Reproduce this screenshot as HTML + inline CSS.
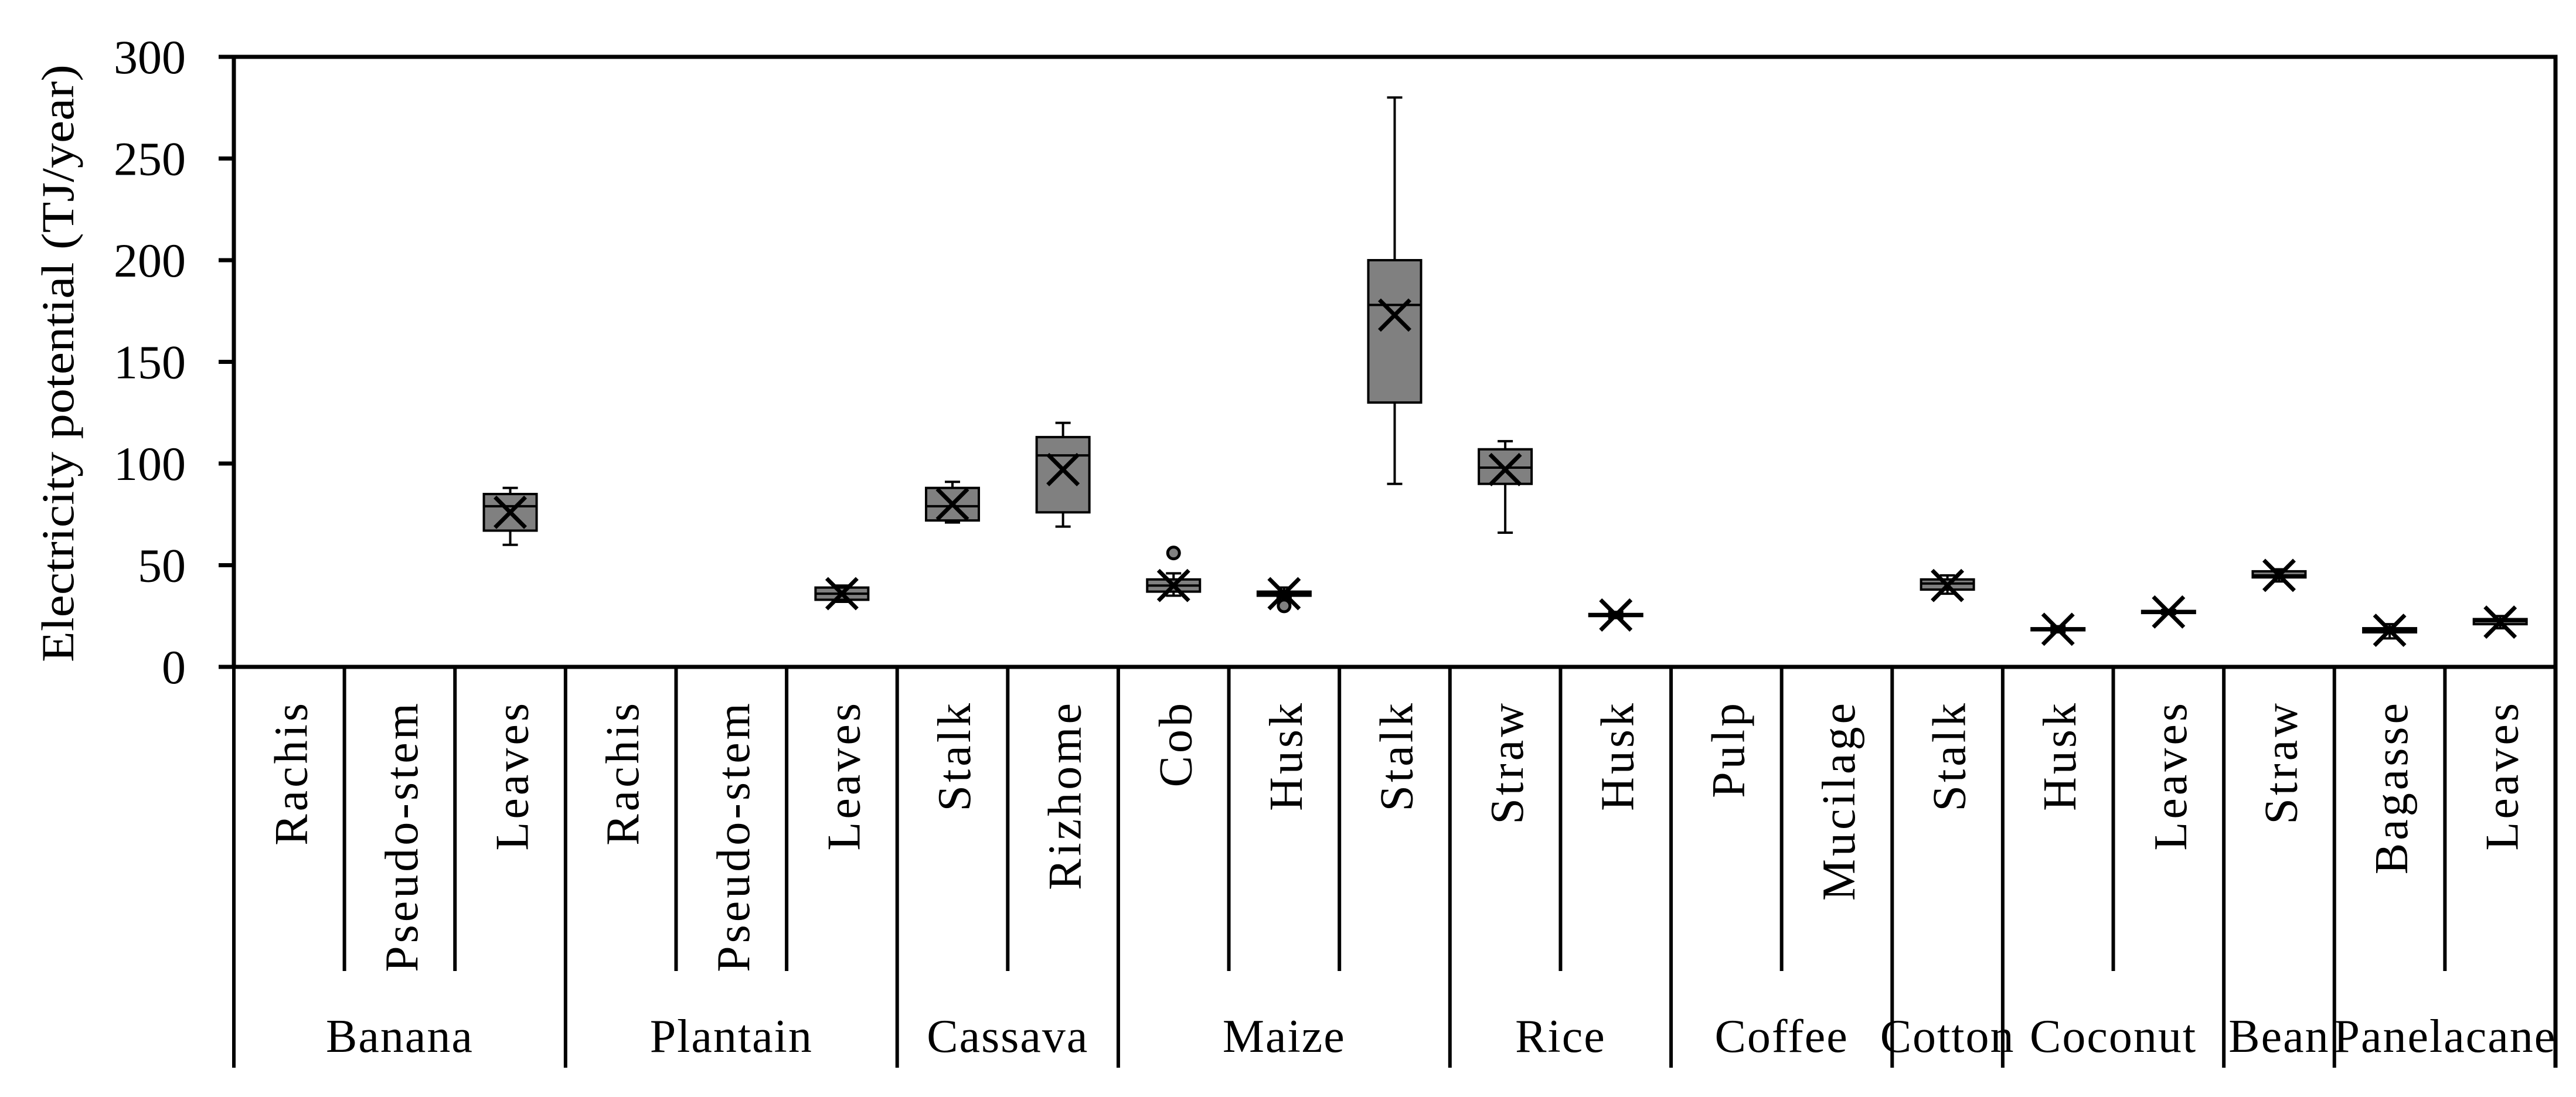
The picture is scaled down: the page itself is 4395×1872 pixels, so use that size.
<!DOCTYPE html>
<html><head><meta charset="utf-8"><style>body{margin:0;background:#fff}svg{display:block}</style></head>
<body>
<svg id="chart" width="4395" height="1872" viewBox="0 0 4395 1872" xmlns="http://www.w3.org/2000/svg" font-family="'Liberation Serif', serif"></svg>
<script>
const categories=["Rachis","Pseudo-stem","Leaves","Rachis","Pseudo-stem","Leaves","Stalk","Rizhome","Cob","Husk","Stalk","Straw","Husk","Pulp","Mucilage","Stalk","Husk","Leaves","Straw","Bagasse","Leaves"];
const groups=["Banana","Plantain","Cassava","Maize","Rice","Coffee","Cotton","Coconut","Bean","Panelacane"];
const groupSizes=[3,3,2,3,2,2,1,2,1,2];
const whiskLo=[null,null,60,null,null,32,71,69,35,34,90,66,24,null,null,36,17,26,42,14,19];
const q1=[null,null,67,null,null,33,72,76,37,35,130,90,25,null,null,38,18,26.5,44,17,21];
const median=[null,null,79,null,null,36,79,104,40,36,178,98,25.5,null,null,41,18.5,27,45,18,22.5];
const q3=[null,null,85,null,null,39,88,113,43,37,200,107,26,null,null,43,19,27.5,47,19,23.5];
const whiskHi=[null,null,88,null,null,40,91,120,46,39,280,111,27,null,null,45,20,28,48,21,25];
const mean=[null,null,76,null,null,36,80,97,40,36,173,97,25.5,null,null,40,18.5,27,45,18,22];
const outliers=[[],[],[],[],[],[],[],[],[56],[30],[],[],[],[],[],[],[],[],[],[],[]];
const yTicks=[0,50,100,150,200,250,300];

const svg=document.getElementById('chart');
const NS='http://www.w3.org/2000/svg';
const L=399,R=4360,T=97,B=1138,YMAX=300;
const cw=(R-L)/categories.length;
function y(v){return B-(v/YMAX)*(B-T);}
function x(i){return L+cw*(i+0.5);}
function mk(tag,attrs,parent){const e=document.createElementNS(NS,tag);for(const k in attrs)e.setAttribute(k,attrs[k]);(parent||svg).appendChild(e);return e;}

let e=mk('rect',{x:L,y:T,width:R-L,height:B-T,fill:'none',stroke:'#000','stroke-width':7});



yTicks.forEach(v=>{
  let t=mk('line',{x1:L-26,x2:L,y1:y(v),y2:y(v),stroke:'#000','stroke-width':7});
  
  
  let tx=mk('text',{x:317,y:y(v)+28,'text-anchor':'end','font-size':82,fill:'#000'});
  tx.textContent=v;
  
  
});
let yt=mk('text',{x:0,y:0,'text-anchor':'middle','font-size':78,fill:'#000',transform:'translate(125,620) rotate(-90)',textLength:1020,lengthAdjust:'spacingAndGlyphs'});
yt.textContent='Electricity potential (TJ/year)';



let idx=0;
groups.forEach((g,gi)=>{
  const start=idx,n=groupSizes[gi];
  for(let k=0;k<n;k++){
    const i=idx+k;
    let lb=mk('text',{x:0,y:0,'text-anchor':'end','font-size':80,'letter-spacing':5,fill:'#000',transform:`translate(${x(i)+30},1195) rotate(-90)`});
    lb.textContent=categories[i];
    
    
    if(k>0){
      let d=mk('line',{x1:L+cw*i,x2:L+cw*i,y1:B,y2:1657,stroke:'#000','stroke-width':6});
      
      
    }
  }
  let gd=mk('line',{x1:L+cw*start,x2:L+cw*start,y1:B,y2:1822,stroke:'#000','stroke-width':6});
  
  
  let gl=mk('text',{x:L+cw*(start+n/2),y:1795,'text-anchor':'middle','font-size':80,'letter-spacing':2,fill:'#000'});
  gl.textContent=g;
  
  
  idx+=n;
});
let gdr=mk('line',{x1:R,x2:R,y1:B,y2:1822,stroke:'#000','stroke-width':7});



const bw=90,cap=26;
categories.forEach((c,i)=>{
  if(q1[i]===null)return;
  const cx=x(i);
  const g=mk('g',{});
  
  
  mk('line',{x1:cx,x2:cx,y1:y(whiskHi[i]),y2:y(q3[i]),stroke:'#000','stroke-width':4},g);
  mk('line',{x1:cx,x2:cx,y1:y(q1[i]),y2:y(whiskLo[i]),stroke:'#000','stroke-width':4},g);
  mk('line',{x1:cx-cap/2,x2:cx+cap/2,y1:y(whiskHi[i]),y2:y(whiskHi[i]),stroke:'#000','stroke-width':4},g);
  mk('line',{x1:cx-cap/2,x2:cx+cap/2,y1:y(whiskLo[i]),y2:y(whiskLo[i]),stroke:'#000','stroke-width':4},g);
  mk('rect',{x:cx-bw/2,y:y(q3[i]),width:bw,height:Math.max(1,y(q1[i])-y(q3[i])),fill:'#808080',stroke:'#000','stroke-width':4},g);
  mk('line',{x1:cx-bw/2,x2:cx+bw/2,y1:y(median[i]),y2:y(median[i]),stroke:'#000','stroke-width':4},g);
  const my=y(mean[i]),s=26;
  mk('path',{d:`M${cx-s} ${my-s}L${cx+s} ${my+s}M${cx+s} ${my-s}L${cx-s} ${my+s}`,stroke:'#000','stroke-width':7,fill:'none'},g);
  outliers[i].forEach(o=>{
    let oc=mk('circle',{cx:cx,cy:y(o),r:10,fill:'#808080',stroke:'#000','stroke-width':5},g);
    
    
  });
});
</script>
</body></html>
